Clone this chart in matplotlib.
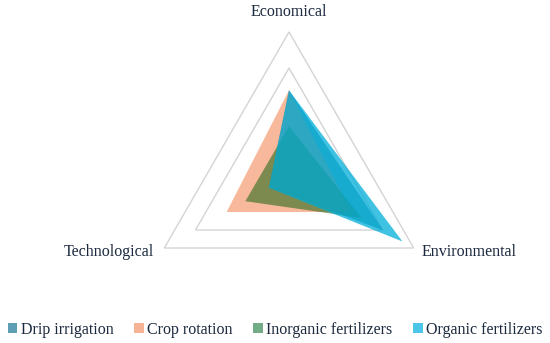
import matplotlib
matplotlib.use('Agg')
import matplotlib.pyplot as plt
from matplotlib.patches import Patch
import numpy as np

axes_names = ['Economical', 'Environmental', 'Technological']
series = ['Drip irrigation', 'Crop rotation', 'Inorganic fertilizers', 'Organic fertilizers']
drip = [2.38, 3.02, 0.65]
crop = [2.38, 2.0, 2.0]
inorganic = [1.38, 2.33, 1.4]
organic = [2.38, 3.64, 0.65]
grid_levels = [3, 4]
vmax = 4

colors = ['#1c7d99', '#f4895a', '#2a6c1c', '#00aed9']
alphas = [0.7, 0.6, 0.6, 0.75]
legend_colors = ['#5e9fb6', '#f7b396', '#72ac84', '#4cc6e8']
txt_color = '#1c2a3f'

plt.rcParams['font.family'] = ['Liberation Serif', 'DejaVu Serif']

angles = np.deg2rad([90, -30, 210])
dx = np.cos(angles)
dy = np.sin(angles)

fig = plt.figure(figsize=(5.5, 3.43), dpi=100)
ax = fig.add_axes([0, 0, 1, 1])
ax.set_xlim(-289 / 144, (550 - 289) / 144)
ax.set_ylim(-(343 - 176) / 144, 176 / 144)
ax.axis('off')

# triangular gridlines
for lv in grid_levels:
    r = lv / vmax
    ax.fill(np.append(dx, dx[0]) * r, np.append(dy, dy[0]) * r, fill=False,
            edgecolor='#d4d4d4', linewidth=1.0, zorder=1)

for vals, c, a in zip([drip, crop, inorganic, organic], colors, alphas):
    r = np.array(vals) / vmax
    ax.fill(dx * r, dy * r, color=c, alpha=a, linewidth=0, zorder=2)

ax.text(0, 1.139, axes_names[0], ha='center', va='center', fontsize=11.5, color=txt_color)
ax.text(1.25, -0.528, axes_names[1], ha='center', va='center', fontsize=11.5, color=txt_color)
ax.text(-1.25, -0.528, axes_names[2], ha='center', va='center', fontsize=11.5, color=txt_color)

handles = [Patch(facecolor=c, edgecolor='none') for c in legend_colors]
leg = fig.legend(handles, series, loc='center', bbox_to_anchor=(0.5, 1 - 330 / 343), ncol=4,
                 frameon=False, fontsize=11.5, handlelength=0.6, handleheight=0.6,
                 handletextpad=0.2, columnspacing=1.3, borderaxespad=0)
for t in leg.get_texts():
    t.set_color(txt_color)

fig.savefig('out.png', dpi=100)
